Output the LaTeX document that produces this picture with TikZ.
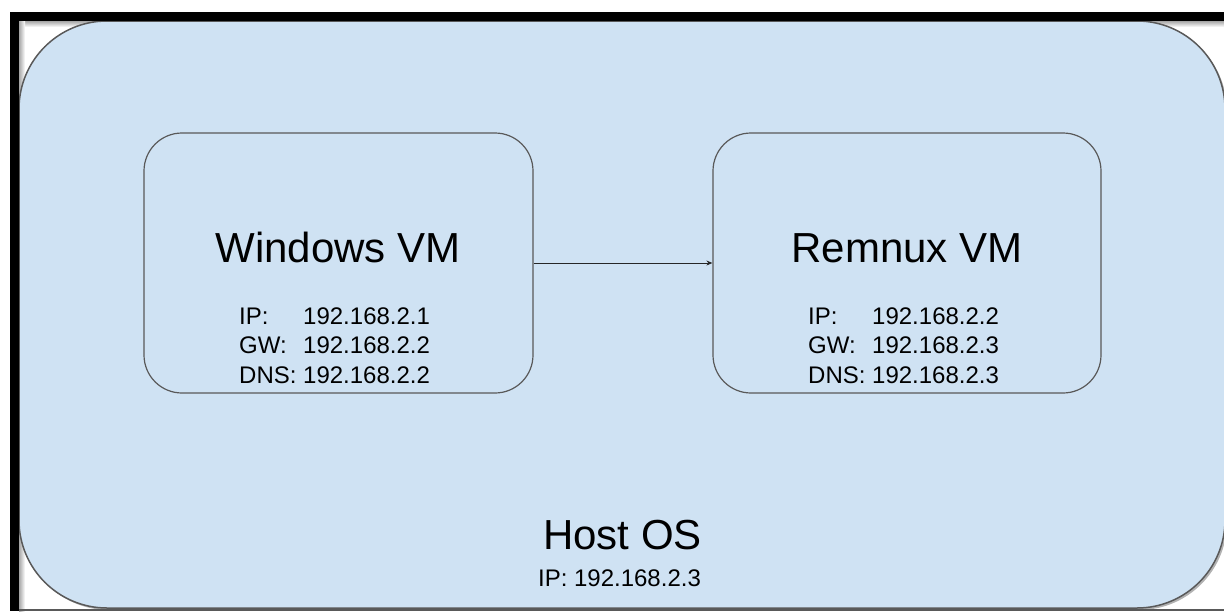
\documentclass[tikz,border=0pt]{standalone}
\usepackage{fontspec}
\setmainfont{Liberation Sans}
\usetikzlibrary{arrows.meta,shadows}
\definecolor{hostfill}{HTML}{CFE2F3}
\definecolor{edgegray}{HTML}{595959}
\begin{document}
\begin{tikzpicture}[x=1pt,y=-1pt,
  hostbox/.style={draw=edgegray, line width=1.5pt, fill=hostfill, rounded corners=88pt,
    drop shadow={shadow xshift=2pt, shadow yshift=-2pt, opacity=0.3, fill=black}},
  vmbox/.style={draw=edgegray, line width=1.2pt, rounded corners=38pt, inner sep=0pt},
  bigtext/.style={font=\fontsize{42}{48}\selectfont, inner sep=0pt, anchor=base},
  smalltext/.style={font=\fontsize{24}{29}\selectfont, inner sep=0pt, anchor=base west},
  link/.style={draw=black!85, line width=1pt, -{Stealth[length=6pt,width=5pt]}}
]
\useasboundingbox (0,0) rectangle (1224,611);
\fill[white] (0,0) rectangle (1224,611);
% shading under the frame
\shade[top color=gray!70, bottom color=white] (19,21) rectangle (1224,27);
\shade[left color=gray!70, right color=white] (19,21) rectangle (25,611);
% host area
\node[hostbox, minimum width=1206pt, minimum height=587pt] (host) at (622,314.5) {};
% frame
\fill[black] (10,12) rectangle (1224,21);
\fill[black] (10,12) rectangle (19,611);
\draw[edgegray, line width=2.5pt] (19,610) -- (1224,610);
% VM boxes
\node[vmbox, minimum width=389pt, minimum height=260pt] (win) at (338.5,263) {};
\node[vmbox, minimum width=388pt, minimum height=260pt] (rem) at (907,263) {};
% titles
\node[bigtext] (wintitle) at (338,262) {Windows VM};
\node[bigtext] (remtitle) at (907,262) {Remnux VM};
% windows details
\node[smalltext] (winip) at (239,324) {\makebox[64pt][l]{IP:}192.168.2.1};
\node[smalltext] (wingw) at (239,353) {\makebox[64pt][l]{GW:}192.168.2.2};
\node[smalltext] (windns) at (239,383) {\makebox[64pt][l]{DNS:}192.168.2.2};
% remnux details
\node[smalltext] (remip) at (808,324) {\makebox[64pt][l]{IP:}192.168.2.2};
\node[smalltext] (remgw) at (808,353) {\makebox[64pt][l]{GW:}192.168.2.3};
\node[smalltext] (remdns) at (808,383) {\makebox[64pt][l]{DNS:}192.168.2.3};
% host text
\node[bigtext] (hosttitle) at (622.5,549) {Host OS};
\node[bigtext, font=\fontsize{24}{29}\selectfont] (hostip) at (619.5,586) {IP: 192.168.2.3};
% connector
\draw[link] (win.east) -- (rem.west);
\end{tikzpicture}
\end{document}
